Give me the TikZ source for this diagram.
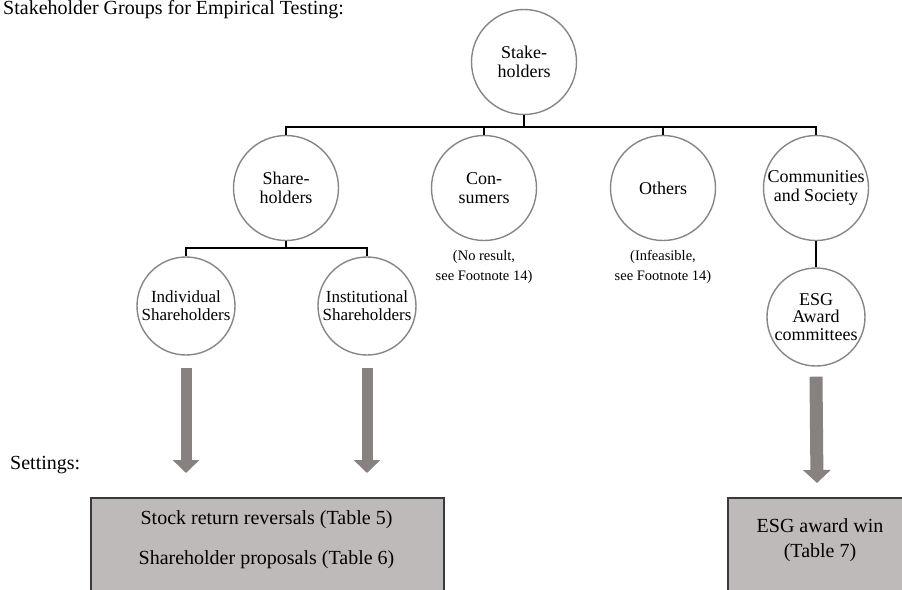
\documentclass[tikz,border=0pt]{standalone}
\usepackage{fontspec}
\setmainfont{Liberation Serif}
\usetikzlibrary{arrows.meta}
\definecolor{circgray}{HTML}{8A8484}
\definecolor{arrgray}{HTML}{878180}
\definecolor{boxfill}{HTML}{BFBABA}
\definecolor{boxline}{HTML}{3A3A3A}
\tikzset{
  bigcirc/.style={circle, draw=circgray, line width=1.4pt, minimum size=105pt, inner sep=0pt, align=center, font=\fontsize{18}{19.5}\selectfont},
  smallcirc/.style={circle, draw=circgray, line width=1.4pt, minimum size=98pt, inner sep=0pt, align=center, font=\fontsize{17}{18}\selectfont},
  esgcirc/.style={circle, draw=circgray, line width=1.4pt, minimum size=98pt, inner sep=0pt, align=center, font=\fontsize{18}{17.5}\selectfont},
  tree/.style={draw=black, line width=1.5pt},
  note/.style={align=center, font=\fontsize{14.5}{20}\selectfont, inner sep=0pt},
  bigarrow/.style={draw=arrgray, line width=11pt, -{Triangle[length=13pt,width=26pt]}},
  bigarrowb/.style={draw=arrgray, line width=13pt, -{Triangle[length=13pt,width=27pt]}},
  setbox/.style={draw=boxline, fill=boxfill, line width=2pt, inner sep=0pt},
  boxtext/.style={font=\fontsize{20}{25}\selectfont, inner sep=0pt, align=center},
  labeltext/.style={font=\fontsize{20}{24}\selectfont, inner sep=0pt}
}
\begin{document}
\begin{tikzpicture}[x=1pt,y=-1pt]
\useasboundingbox (0,0) rectangle (902,589);
% title
\node[labeltext, anchor=base west] (title) at (3,14.5) {Stakeholder Groups for Empirical Testing:};
\node[labeltext, anchor=base west] (settings) at (10,469) {Settings:};
% circles
\node[bigcirc] (stake) at (524,62) {Stake-\\holders};
\node[bigcirc] (sh) at (286,188) {Share-\\holders};
\node[bigcirc] (con) at (484,188) {Con-\\sumers};
\node[bigcirc] (oth) at (663,188) {Others};
\node[bigcirc] (com) at (816,188) {Communities\\and Society};
\node[smallcirc] (ind) at (186,306) {Individual\\Shareholders};
\node[smallcirc] (inst) at (367,306) {Institutional\\Shareholders};
\node[esgcirc] (esg) at (816,317) {ESG\\Award\\committees};
% notes
\node[note] (connote) at (484,267) {(No result,\\see Footnote 14)};
\node[note] (othnote) at (663,267) {(Infeasible,\\see Footnote 14)};
% tree connectors
\coordinate (bar1) at (524,127);
\coordinate (bar2) at (286,248);
\draw[tree] (stake.south) -- (bar1);
\draw[tree] (sh.north) |- (bar1) -| (com.north);
\draw[tree] (con.north) -- (con.north |- bar1);
\draw[tree] (oth.north) -- (oth.north |- bar1);
\draw[tree] (sh.south) -- (bar2);
\draw[tree] (ind.north) |- (bar2) -| (inst.north);
\draw[tree] (com.south) -- (esg.north);
% boxes
\node[setbox, minimum width=353pt, minimum height=120pt, anchor=north west] (box1) at (90,497) {};
\node[boxtext] (t5) at (266.5,520) {Stock return reversals (Table 5)};
\node[boxtext] (t6) at (266.5,560) {Shareholder proposals (Table 6)};
\node[setbox, minimum width=200pt, minimum height=120pt, anchor=north west] (box2) at (727,497) {};
\node[boxtext] (t7) at (820,540.5) {ESG award win\\(Table 7)};
% arrows
\coordinate (a1) at (186,473);
\coordinate (a2) at (367,473);
\coordinate (a3) at (817,483);
\draw[bigarrow] ([yshift=-12pt]ind.south) -- (a1);
\draw[bigarrow] ([yshift=-12pt]inst.south) -- (a2);
\draw[bigarrowb] ([yshift=-10pt]esg.south) -- (a3);
\end{tikzpicture}
\end{document}
